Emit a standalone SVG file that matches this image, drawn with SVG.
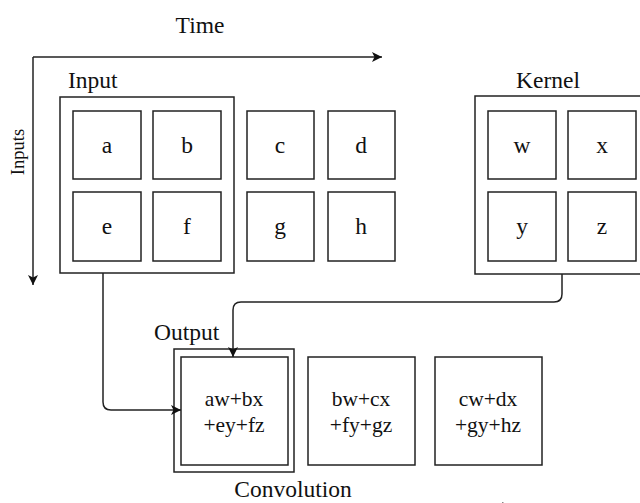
<svg xmlns="http://www.w3.org/2000/svg" width="640" height="503" viewBox="0 0 640 503">
<defs>
<marker id="ah" viewBox="0 0 10 10" refX="10" refY="5" markerWidth="10" markerHeight="10" markerUnits="userSpaceOnUse" orient="auto">
<path d="M0,0 L10,5 L0,10 L2.5,5 Z" fill="#111"/>
</marker>
<style>
.t{font-family:"Liberation Serif","Times New Roman",serif;fill:#111;font-size:23.5px}
.c{text-anchor:middle}
.b{fill:#fff;stroke:#222;stroke-width:1.5}
.k{fill:none;stroke:#222;stroke-width:1.5}
.ln{fill:none;stroke:#222;stroke-width:1.5}
.s{font-size:21.5px}
</style>
</defs>
<rect width="640" height="503" fill="#fff"/>
<g id="axes">
<text class="t c" x="200" y="33">Time</text>
<text class="t c" transform="translate(24,152) rotate(-90)" style="font-size:18.5px">Inputs</text>
</g>
<g id="input">
<rect class="k" x="60" y="97" width="174" height="176"/>
<text class="t" x="68" y="88">Input</text>
</g>
<g id="node-a"><rect class="b" x="73" y="111" width="68" height="68"/><text class="t c" x="107" y="153">a</text></g>
<g id="node-b"><rect class="b" x="153" y="111" width="68" height="68"/><text class="t c" x="187" y="153">b</text></g>
<g id="node-e"><rect class="b" x="73" y="192" width="68" height="69"/><text class="t c" x="107" y="234">e</text></g>
<g id="node-f"><rect class="b" x="153" y="192" width="68" height="69"/><text class="t c" x="187" y="234">f</text></g>
<g id="node-c"><rect class="b" x="247" y="111" width="67" height="68"/><text class="t c" x="280" y="153">c</text></g>
<g id="node-d"><rect class="b" x="328" y="111" width="67" height="68"/><text class="t c" x="361" y="153">d</text></g>
<g id="node-g"><rect class="b" x="247" y="192" width="67" height="69"/><text class="t c" x="280" y="234">g</text></g>
<g id="node-h"><rect class="b" x="328" y="192" width="67" height="69"/><text class="t c" x="361" y="234">h</text></g>
<g id="kernel">
<rect class="k" x="475" y="96" width="174" height="178"/>
<text class="t c" x="548" y="88">Kernel</text>
</g>
<g id="node-w"><rect class="b" x="488" y="111" width="68" height="68"/><text class="t c" x="522" y="153">w</text></g>
<g id="node-x"><rect class="b" x="568" y="111" width="68" height="68"/><text class="t c" x="602" y="153">x</text></g>
<g id="node-y"><rect class="b" x="488" y="192" width="68" height="69"/><text class="t c" x="522" y="234">y</text></g>
<g id="node-z"><rect class="b" x="568" y="192" width="68" height="69"/><text class="t c" x="602" y="234">z</text></g>
<g id="output">
<rect class="k" x="174" y="349" width="120" height="123"/>
<text class="t" x="154" y="340">Output</text>
<text class="t c" x="293" y="497">Convolution</text>
</g>
<g id="node-o1"><rect class="b" x="181" y="357" width="107" height="108"/><text class="t c s" x="234" y="406">aw+bx</text><text class="t c s" x="234" y="432">+ey+fz</text></g>
<g id="node-o2"><rect class="b" x="308" y="357" width="107" height="108"/><text class="t c s" x="361" y="406">bw+cx</text><text class="t c s" x="361" y="432">+fy+gz</text></g>
<g id="node-o3"><rect class="b" x="435" y="357" width="107" height="108"/><text class="t c s" x="488" y="406">cw+dx</text><text class="t c s" x="488" y="432">+gy+hz</text></g>
<g id="connectors">
<path class="ln" d="M33,57 L382,57" marker-end="url(#ah)"/>
<path class="ln" d="M33,57 L33,285" marker-end="url(#ah)"/>
<path class="ln" d="M103,273 L103,402 Q103,410 111,410 L181,410" marker-end="url(#ah)"/>
<path class="ln" d="M562,274 L562,294 Q562,302 554,302 L241,302 Q233,302 233,310 L233,357" marker-end="url(#ah)"/>
<path class="ln" d="M420,507 L512,507" marker-end="url(#ah)"/>
</g>
</svg>
